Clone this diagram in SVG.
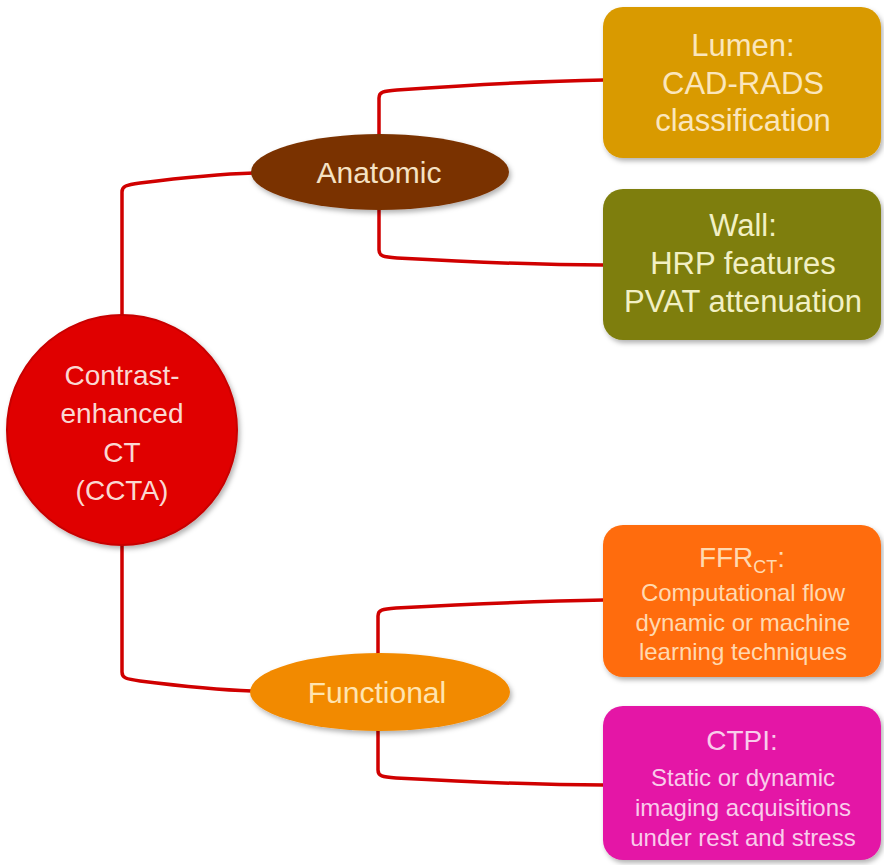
<svg xmlns="http://www.w3.org/2000/svg" width="884" height="865" viewBox="0 0 884 865">
  <defs>
    <filter id="sh" x="-10%" y="-10%" width="125%" height="130%">
      <feDropShadow dx="2" dy="3" stdDeviation="2.5" flood-color="#000" flood-opacity="0.3"/>
    </filter>
    <style>
      text { font-family: "Liberation Sans", Arial, sans-serif; text-anchor: middle; }
      .conn { fill: none; stroke: #D00000; stroke-width: 3.5; stroke-linecap: round; }
      .box { filter: url(#sh); }
    </style>
  </defs>
  <rect width="884" height="865" fill="#FFFFFF"/>

  <g id="connectors">
    <path class="conn" d="M122,320 V192 C122,186 126,185 140,183 C180,178 220,174 254,173"/>
    <path class="conn" d="M122,540 V672 C122,678 126,679 140,681 C180,686 220,690 252,691"/>
    <path class="conn" d="M379,138 V98 C379,92 383,91 397,90 C470,85 540,81 604,80"/>
    <path class="conn" d="M379,208 V250 C379,256 383,257 397,258 C470,262 540,265 604,265"/>
    <path class="conn" d="M378,656 V616 C378,610 382,609 396,608 C470,604 540,601 604,600"/>
    <path class="conn" d="M378,728 V770 C378,776 382,777 396,778 C470,782 540,785 604,785"/>
  </g>

  <g id="ccta">
    <circle class="box" cx="122" cy="430" r="115" fill="#E00000" stroke="#C80000" stroke-width="2"/>
    <g fill="#FAD8D2" font-size="28">
      <text x="122" y="385">Contrast-</text>
      <text x="122" y="423">enhanced</text>
      <text x="122" y="462">CT</text>
      <text x="122" y="500">(CCTA)</text>
    </g>
  </g>

  <g id="anatomic">
    <ellipse class="box" cx="380" cy="172" rx="129" ry="38" fill="#7A3200"/>
    <text x="379" y="183" font-size="30" fill="#F5E2C4">Anatomic</text>
  </g>

  <g id="functional">
    <ellipse class="box" cx="380" cy="692" rx="130" ry="39" fill="#F28A00"/>
    <text x="377" y="703" font-size="30" fill="#FFE4B0">Functional</text>
  </g>

  <g id="lumen">
    <rect class="box" x="603" y="7" width="278" height="151" rx="20" fill="#D99A00"/>
    <g fill="#FBE6BC" font-size="31">
      <text x="743" y="56">Lumen:</text>
      <text x="743" y="94">CAD-RADS</text>
      <text x="743" y="131">classification</text>
    </g>
  </g>

  <g id="wall">
    <rect class="box" x="603" y="189" width="278" height="151" rx="20" fill="#7E7E0A"/>
    <g fill="#F2F0C4" font-size="31">
      <text x="743" y="236">Wall:</text>
      <text x="743" y="274">HRP features</text>
      <text x="743" y="312">PVAT attenuation</text>
    </g>
  </g>

  <g id="ffrct">
    <rect class="box" x="603" y="525" width="278" height="152" rx="20" fill="#FF6C0A"/>
    <g fill="#FFD9B0">
      <text x="742" y="567" font-size="28">FFR<tspan font-size="18" dy="6">CT</tspan><tspan dy="-6">:</tspan></text>
      <text x="743" y="601" font-size="24">Computational flow</text>
      <text x="743" y="631" font-size="24">dynamic or machine</text>
      <text x="743" y="660" font-size="24">learning techniques</text>
    </g>
  </g>

  <g id="ctpi">
    <rect class="box" x="603" y="706" width="278" height="154" rx="20" fill="#E419A6"/>
    <g fill="#F9CCEB">
      <text x="742" y="750" font-size="28">CTPI:</text>
      <text x="743" y="786" font-size="24">Static or dynamic</text>
      <text x="743" y="816" font-size="24">imaging acquisitions</text>
      <text x="743" y="846" font-size="24">under rest and stress</text>
    </g>
  </g>
</svg>
